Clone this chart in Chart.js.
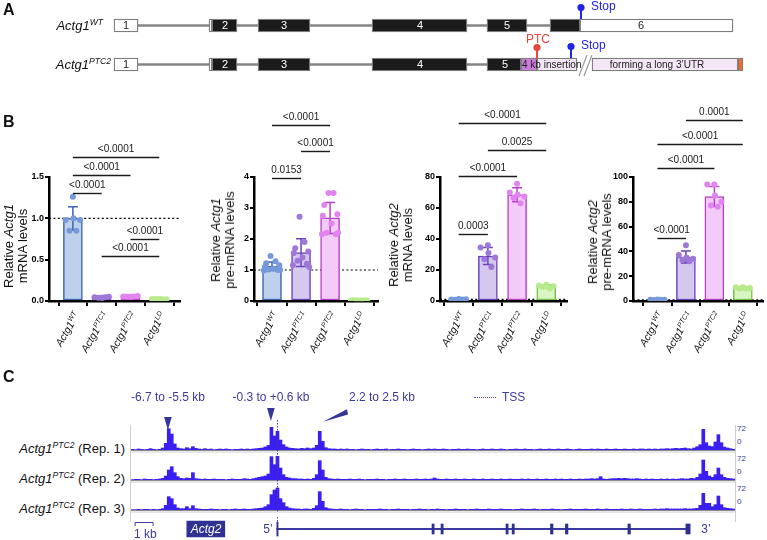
<!DOCTYPE html>
<html>
<head>
<meta charset="utf-8">
<title>Actg1 PTC2 allele</title>
<script src="https://cdn.jsdelivr.net/npm/chart.js"></script>
<style>
  body { margin: 0; background: #fff; }
  #fig { position: relative; width: 767px; height: 540px; overflow: hidden; font-family: Arial, "Liberation Sans", sans-serif; color: #111; }
  #fig canvas { position: absolute; }
  .t { position: absolute; white-space: nowrap; line-height: 1; }
  .t sup { font-size: 0.66em; vertical-align: baseline; position: relative; top: -0.55em; }
  .panel { font-size: 16px; font-weight: bold; }
  .ytitle { text-align: center; font-size: 13px; line-height: 14px; }
  .xlab { font-size: 10.5px; font-style: italic; transform-origin: 100% 50%; }
  .navy { color: #3b3b9c; }
</style>
</head>
<body>
<div id="fig">
  <canvas id="geneA" style="left:0px;top:0px" width="767" height="90"></canvas>
  <canvas id="b1" style="left:0px;top:100px" width="190" height="240"></canvas>
  <canvas id="b2" style="left:195px;top:100px" width="190" height="240"></canvas>
  <canvas id="b3" style="left:385px;top:100px" width="188" height="240"></canvas>
  <canvas id="b4" style="left:573px;top:100px" width="194" height="240"></canvas>
  <canvas id="t1" style="left:131px;top:393px" width="604" height="60"></canvas>
  <canvas id="t2" style="left:131px;top:453px" width="604" height="30"></canvas>
  <canvas id="t3" style="left:131px;top:483px" width="604" height="30"></canvas>
  <canvas id="gm" style="left:131px;top:517px" width="604" height="24"></canvas>
</div>
<script>
// ---------- A: gene models (schematic units) ----------
const geneRows = ['Actg1 WT', 'Actg1 PTC2'];
const intronSpan = [[138, 550], [138, 487]];
const segWT  = [[114,138],[209,212],[212,237],[258,310],[372,467],[487,527],[550,580],[580,733]];
const segPTC = [[114,138],[209,212],[212,237],[258,310],[372,467],[487,521],[521,537],[537,577],[592,738],[738,743]];
const fillWT  = ['#fff','#fff','#1b1b1b','#1b1b1b','#1b1b1b','#1b1b1b','#1b1b1b','#fff'];
const fillPTC = ['#fff','#fff','#1b1b1b','#1b1b1b','#1b1b1b','#1b1b1b','#cb7bdb','#f4e5f7','#f4e5f7','#ee6b2d'];
const exonNumWT  = [['1',126],['2',225],['3',284],['4',420],['5',507],['6',641]];
const exonNumPTC = [['1',126],['2',225],['3',284],['4',420],['5',505]];
const exonNumInk = ['#222','#fff','#fff','#fff','#fff','#222'];
const stopAt = [581, 571];
const ptcAt = 537;
const breakAt = 585;

// ---------- B: qPCR ----------
const groups = ['WT', 'PTC1', 'PTC2', 'LD'];
const jitter6  = [0, -0.25, 0.02, 0.25, -0.12, 0.12];
const jitter10 = [-0.05, 0.12, -0.2, 0.25, -0.25, 0.05, -0.12, 0.2, -0.28, 0.28];

const a1mMeans = [1.0, 0.045, 0.052, 0.022];
const a1mSd    = [0.14, 0.006, 0.006, 0.003];
const a1mPts = [
  [1.26, 0.98, 1.0, 0.98, 0.85, 0.85],
  [0.04, 0.045, 0.04, 0.05, 0.04, 0.045],
  [0.05, 0.055, 0.05, 0.06, 0.05, 0.055],
  [0.02, 0.025, 0.02, 0.02, 0.025, 0.02]];
const a1mP = [[0,3,1.74,'<0.0001'],[0,2,1.52,'<0.0001'],[0,1,1.31,'<0.0001'],[2,3,0.753,'<0.0001'],[1,3,0.544,'<0.0001']];

const a1pMeans = [1.12, 1.56, 2.68, 0.02];
const a1pSd    = [0.14, 0.45, 0.5, 0.005];
const a1pPts = [
  [1.45, 1.28, 1.22, 1.15, 1.1, 1.05, 1.02, 1.0, 0.98, 1.0],
  [2.72, 1.9, 1.7, 1.6, 1.55, 1.4, 1.3, 1.2, 1.15, 1.1],
  [3.48, 3.48, 3.1, 2.8, 2.75, 2.5, 2.2, 2.15, 2.15, 2.2],
  [0.02, 0.02, 0.02, 0.02, 0.02, 0.02, 0.02, 0.02, 0.02, 0.02]];
const a1pP = [[0,2,5.69,'<0.0001'],[1,2,4.83,'<0.0001'],[0,1,3.97,'0.0153']];

const a2mMeans = [1.0, 29, 68.5, 9.4];
const a2mSd    = [0.2, 5.5, 4.5, 0.9];
const a2mPts = [
  [1.3, 1.0, 0.9, 1.1, 0.8, 1.0],
  [36, 34.5, 31, 28, 27, 22],
  [75.7, 70, 68.5, 67.5, 66.5, 63],
  [10.5, 10, 9.5, 9.5, 9, 8]];
const a2mP = [[0,3,114.6,'<0.0001'],[1,3,97.6,'0.0025'],[0,2,80.4,'<0.0001'],[0,1,43.2,'0.0003']];

const a2pMeans = [1.0, 35.5, 84.3, 10.5];
const a2pSd    = [0.2, 4.8, 8, 0.5];
const a2pPts = [
  [1.2, 1.0, 0.9, 1.1, 0.8, 1.0],
  [45, 37, 35, 34, 33, 32],
  [94, 94, 85, 80, 77, 76],
  [11, 11, 10.5, 10.5, 10, 10]];
const a2pP = [[1,3,145.7,'0.0001'],[0,3,126.8,'<0.0001'],[0,2,107.2,'<0.0001'],[0,1,50.6,'<0.0001']];

// ---------- C: coverage tracks (200 bins, scale 0-72) ----------
const kbMin = -8.1, kbMax = 25.45;
const rep1 = [
  2,1,3,2,1,2,4,2,1,2, 6,20,64,48,18,6,4,3,7,4, 10,5,3,2,4,2,3,1,2,3, 2,3,2,1,2,2,3,2,3,2,
  3,4,5,6,9,14,68,42,56,30, 16,9,6,5,4,3,5,4,6,4, 6,14,56,26,7,4,3,3,2,3, 2,3,2,2,1,2,3,2,2,1,
  2,3,2,2,3,1,2,2,3,2, 2,1,2,3,2,2,1,2,3,2, 3,2,2,3,2,1,2,2,3,2, 2,3,2,2,1,2,3,2,2,3,
  2,2,3,2,1,2,2,3,2,2, 3,2,2,1,2,3,2,2,3,2, 2,3,2,2,3,2,1,2,3,2, 2,2,3,2,3,2,2,3,2,2,
  3,2,2,3,2,2,3,2,3,3, 2,3,2,3,2,3,3,4,3,4, 5,4,5,6,4,3,6,10,16,62, 22,12,10,24,46,22,9,6,4,2];
const rep2 = [
  1,2,2,1,3,2,2,1,2,3, 5,12,30,40,22,10,5,4,6,5, 22,4,3,2,3,2,2,3,2,2, 2,1,2,3,2,2,2,4,3,2,
  4,6,8,10,12,18,70,46,72,36, 16,8,6,4,4,3,3,2,3,2, 5,16,58,30,8,4,3,2,3,2, 2,2,3,2,2,3,2,1,2,2,
  2,3,2,2,1,2,2,3,2,2, 3,2,2,2,3,2,2,3,2,3, 6,3,2,2,3,2,2,3,2,2, 3,2,2,3,2,2,3,2,2,3,
  2,2,3,2,2,3,2,2,2,3, 2,3,2,2,3,2,2,3,2,2, 3,2,3,2,2,3,2,2,3,2, 3,3,4,3,4,10,3,2,3,4,
  4,5,4,5,4,3,3,4,3,2, 3,2,3,2,2,3,2,3,2,3, 2,3,4,3,3,5,4,8,18,60, 26,12,8,16,36,16,8,5,4,3];
const rep3 = [
  1,1,2,1,2,2,1,2,1,2, 4,14,40,34,16,6,4,4,10,4, 13,4,3,2,2,2,3,2,2,1, 2,2,1,2,3,2,2,3,2,2,
  3,4,5,6,10,16,46,60,66,34, 22,10,6,4,3,3,2,3,3,2, 5,13,55,26,7,4,3,2,2,3, 2,2,1,2,3,2,2,1,2,2,
  2,2,3,2,2,1,2,2,3,2, 2,2,1,2,2,3,2,2,1,2, 2,3,2,2,1,2,2,3,2,2, 2,1,2,2,3,2,2,2,3,2,
  2,2,3,2,2,2,1,2,2,3, 2,2,2,3,2,1,2,2,2,3, 2,2,1,2,2,3,2,2,2,2, 3,2,2,2,3,2,2,3,2,2,
  2,2,3,2,2,3,2,2,3,2, 2,2,2,3,2,3,3,4,3,3, 3,3,3,4,3,3,4,5,14,50, 20,20,10,16,42,16,7,5,4,3];
const arrowKb = [-6.05, -0.33];
const wedgeKb = [2.56, 3.9];
const actg1Span = [0, 22.9];
const actg1Exons = [[0,0.07],[8.62,8.74],[9.12,9.24],[12.73,12.85],[13.07,13.19],[15.2,15.34],[16.03,16.17],[19.5,19.64],[22.72,22.96]];
const actg2Box = [-5.0, -2.89];
const scaleBarKb = [-7.9, -6.9];

const fig = document.getElementById('fig');
function put(html, x, y, cls, anchor, extra) {
  const d = document.createElement('div');
  d.className = 't ' + (cls || '');
  d.innerHTML = html;
  d.style.left = x + 'px';
  d.style.top = y + 'px';
  const tx = anchor === 'right' ? '-100%' : anchor === 'center' ? '-50%' : '0';
  d.style.transform = `translate(${tx},-50%)` + (extra || '');
  fig.appendChild(d);
  return d;
}
const noUi = { responsive: false, animation: false, events: [], plugins: { legend: { display: false }, tooltip: { enabled: false } } };

// ---------- panel A chart ----------
const aSets = [{ data: intronSpan, backgroundColor: '#858585', barThickness: 2, grouped: false, borderWidth: 0, order: 10 }];
for (let k = 0; k < Math.max(segWT.length, segPTC.length); k++) {
  aSets.push({ data: [segWT[k] || null, segPTC[k] || null], backgroundColor: [fillWT[k] || '#fff', fillPTC[k] || '#fff'],
    borderColor: '#7d7d7d', borderWidth: 1.3, borderSkipped: false, barThickness: 13, grouped: false, order: 0 });
}
const geneDecor = {
  id: 'geneDecor',
  afterDatasetsDraw(chart) {
    const { ctx, scales: { x, y } } = chart;
    const r0 = y.getPixelForValue(0), r1 = y.getPixelForValue(1);
    ctx.save();
    ctx.font = '11px Arial'; ctx.textAlign = 'center'; ctx.textBaseline = 'middle';
    exonNumWT.forEach(([t, p], k) => { ctx.fillStyle = exonNumInk[k]; ctx.fillText(t, x.getPixelForValue(p), r0 + 0.5); });
    exonNumPTC.forEach(([t, p], k) => { ctx.fillStyle = exonNumInk[k]; ctx.fillText(t, x.getPixelForValue(p), r1 + 0.5); });
    ctx.font = '10px Arial'; ctx.fillStyle = '#222'; ctx.textAlign = 'left';
    ctx.fillText('4 kb insertion', x.getPixelForValue(522), r1 + 0.5);
    ctx.textAlign = 'center';
    ctx.fillText('forming a long 3\u2019UTR', x.getPixelForValue(657), r1 + 0.5);
    // break marks
    const bx = x.getPixelForValue(breakAt);
    ctx.strokeStyle = '#9a9a9a'; ctx.lineWidth = 1.2;
    ctx.beginPath();
    ctx.moveTo(bx - 6, r1 + 11.5); ctx.lineTo(bx + 2, r1 - 9.5);
    ctx.moveTo(bx - 1, r1 + 11.5); ctx.lineTo(bx + 7, r1 - 9.5);
    ctx.stroke();
    // lollipops
    const pop = (px, row, col, label, lx, align) => {
      const top = row - 18;
      ctx.strokeStyle = col; ctx.fillStyle = col; ctx.lineWidth = 2;
      ctx.beginPath(); ctx.moveTo(px, row - 6.5); ctx.lineTo(px, top); ctx.stroke();
      ctx.beginPath(); ctx.arc(px, top, 3.6, 0, Math.PI * 2); ctx.fill();
      ctx.font = '12px Arial'; ctx.textAlign = align; ctx.textBaseline = 'middle';
      ctx.fillText(label, lx, align === 'center' ? top - 8 : top - 1);
    };
    const sw = x.getPixelForValue(stopAt[0]), sp = x.getPixelForValue(stopAt[1]), pp = x.getPixelForValue(ptcAt);
    pop(sw, r0, '#2323e6', 'Stop', sw + 10, 'left');
    pop(pp, r1 + 1, '#e8453f', 'PTC', pp + 1, 'center');
    pop(sp, r1, '#2323e6', 'Stop', sp + 10, 'left');
    ctx.restore();
  }
};
new Chart(document.getElementById('geneA'), {
  type: 'bar',
  data: { labels: geneRows, datasets: aSets },
  options: Object.assign({}, noUi, {
    indexAxis: 'y',
    layout: { padding: { top: 6, bottom: 6, left: 0, right: 0 } },
    scales: { x: { type: 'linear', min: 0, max: 767, display: false }, y: { display: false } }
  }),
  plugins: [geneDecor]
});

// ---------- panel B charts ----------
const barFill = ['#bdd0ec', '#d4c8ef', '#f4cbf8', '#daf5c4'];
const barEdge = ['#3f63ad', '#6b42b9', '#b541c7', '#73c046'];
const dotFill = ['#7699d9', '#9d78d9', '#e284f0', '#b7ea8c'];

const errorBars = {
  id: 'errorBars',
  afterDatasetDraw(chart, args) {
    const ds = chart.data.datasets[args.index];
    if (!ds.sd) return;
    const { ctx, scales: { x, y } } = chart;
    ctx.save();
    ctx.lineWidth = 1.5;
    ds.data.forEach((d, i) => {
      const px = x.getPixelForValue(d.x);
      const hi = y.getPixelForValue(d.y + ds.sd[i]);
      const lo = y.getPixelForValue(Math.max(0, d.y - ds.sd[i]));
      ctx.strokeStyle = barEdge[i];
      ctx.beginPath();
      ctx.moveTo(px, hi); ctx.lineTo(px, lo);
      ctx.moveTo(px - 5, hi); ctx.lineTo(px + 5, hi);
      ctx.moveTo(px - 5, lo); ctx.lineTo(px + 5, lo);
      ctx.stroke();
    });
    ctx.restore();
  }
};
function bracketPlugin(list) {
  return {
    id: 'brackets',
    afterDraw(chart) {
      const { ctx, scales: { x, y } } = chart;
      ctx.save();
      ctx.strokeStyle = '#1a1a1a'; ctx.fillStyle = '#1a1a1a'; ctx.lineWidth = 1.4;
      ctx.font = '10px Arial'; ctx.textAlign = 'center'; ctx.textBaseline = 'bottom';
      list.forEach(([a, b, v, txt]) => {
        const x1 = x.getPixelForValue(a), x2 = x.getPixelForValue(b), py = Math.round(y.getPixelForValue(v)) + 0.5;
        ctx.beginPath(); ctx.moveTo(x1, py); ctx.lineTo(x2, py); ctx.stroke();
        ctx.fillText(txt, (x1 + x2) / 2, py - 3);
      });
      ctx.restore();
    }
  };
}
function groupChart(id, box, means, sds, pts, pvals, title) {
  const jit = pts[0].length > 6 ? jitter10 : jitter6;
  const sets = [
    { type: 'line', data: [{ x: box.xMin, y: 1 }, { x: box.xMax, y: 1 }], borderColor: '#000', borderWidth: 1.2, borderDash: [2, 2.4], pointRadius: 0, order: 4 },
    { type: 'bar', data: means.map((m, i) => ({ x: i, y: m })), backgroundColor: barFill, borderColor: barEdge, borderWidth: 1.5,
      borderSkipped: false, barThickness: 19, order: 3, sd: sds },
    ...pts.map((g, i) => ({ type: 'scatter', data: g.map((v, j) => ({ x: i + jit[j], y: v })), backgroundColor: dotFill[i],
      pointRadius: 3, borderWidth: 0, order: 1 }))
  ];
  const axisLook = { grid: { drawOnChartArea: false, color: '#000', lineWidth: 2 }, border: { color: '#000', width: 2.5 } };
  const chart = new Chart(document.getElementById(id), {
    type: 'bar',
    data: { datasets: sets },
    options: Object.assign({}, noUi, {
      layout: { padding: { top: box.aTop - box.top, right: box.left + box.w - box.aRight, left: 0, bottom: 0 } },
      scales: {
        x: { type: 'linear', offset: false, min: box.xMin, max: box.xMax,
          afterBuildTicks: s => { s.ticks = [0, 1, 2, 3].map(v => ({ value: v })); },
          ticks: { display: false },
          grid: Object.assign({}, axisLook.grid, { tickLength: 5 }), border: axisLook.border,
          afterFit: s => { s.height = box.top + 240 - box.aBottom; } },
        y: { type: 'linear', min: 0, max: box.yMax,
          ticks: { stepSize: box.step, padding: 1, color: '#000', font: { family: 'Arial', size: 9, weight: 'bold' },
            callback: v => box.step < 1 ? v.toFixed(1) : String(v) },
          grid: Object.assign({}, axisLook.grid, { tickLength: 4 }), border: axisLook.border,
          afterFit: s => { s.width = box.aLeft - box.left; } }
      }
    }),
    plugins: [errorBars, bracketPlugin(pvals)]
  });
  const sx = chart.scales.x;
  groups.forEach((g, i) => {
    const px = box.left + sx.getPixelForValue(i);
    put('Actg1<sup>' + g + '</sup>', px + 4, box.aBottom + 12, 'xlab', 'right', ' rotate(-60deg)');
  });
  put(title.join('<br>'), box.tx, box.ty, 'ytitle', 'center', ' rotate(-90deg)');
  return chart;
}
groupChart('b1', { left: 0, top: 100, w: 190, aLeft: 49, aTop: 177, aRight: 180, aBottom: 301, xMin: -0.83, xMax: 3.72, yMax: 1.5, step: 0.5, tx: 16, ty: 246 },
  a1mMeans, a1mSd, a1mPts, a1mP, ['Relative <i>Actg1</i>', 'mRNA levels']);
groupChart('b2', { left: 195, top: 100, w: 190, aLeft: 254, aTop: 177, aRight: 378, aBottom: 301, xMin: -0.62, xMax: 3.65, yMax: 4, step: 1, tx: 223, ty: 240 },
  a1pMeans, a1pSd, a1pPts, a1pP, ['Relative <i>Actg1</i>', 'pre-mRNA levels']);
groupChart('b3', { left: 385, top: 100, w: 188, aLeft: 440, aTop: 177, aRight: 567, aBottom: 301, xMin: -0.64, xMax: 3.71, yMax: 80, step: 20, tx: 401, ty: 245 },
  a2mMeans, a2mSd, a2mPts, a2mP, ['Relative <i>Actg2</i>', 'mRNA levels']);
groupChart('b4', { left: 573, top: 100, w: 194, aLeft: 633, aTop: 177, aRight: 766, aBottom: 301, xMin: -0.86, xMax: 3.71, yMax: 100, step: 20, tx: 600, ty: 242 },
  a2pMeans, a2pSd, a2pPts, a2pP, ['Relative <i>Actg2</i>', 'pre-mRNA levels']);

// ---------- panel C tracks ----------
const binW = (kbMax - kbMin) / rep1.length;
function trackDecor(withArrows) {
  return {
    id: 'trackDecor',
    beforeDatasetsDraw(chart) {
      const { ctx, chartArea: a } = chart;
      ctx.save();
      ctx.fillStyle = '#e7e7e7'; ctx.fillRect(0, a.bottom, chart.width, chart.height - a.bottom);
      ctx.strokeStyle = '#8c8c8c'; ctx.lineWidth = 1;
      ctx.beginPath(); ctx.moveTo(0, a.bottom + 0.5); ctx.lineTo(chart.width, a.bottom + 0.5); ctx.stroke();
      ctx.restore();
    },
    afterDatasetsDraw(chart) {
      const { ctx, chartArea: a, scales: { x } } = chart;
      const tx = Math.round(x.getPixelForValue(0)) + 0.5;
      ctx.save();
      ctx.strokeStyle = '#3c3cb0'; ctx.lineWidth = 1; ctx.setLineDash([1.5, 1.5]);
      ctx.beginPath(); ctx.moveTo(tx, withArrows ? a.top - 6 : 0); ctx.lineTo(tx, chart.height); ctx.stroke();
      ctx.setLineDash([]);
      if (withArrows) {
        ctx.fillStyle = '#34349a';
        const tops = [24, 15];
        arrowKb.forEach((k, i) => {
          const px = x.getPixelForValue(k);
          ctx.beginPath(); ctx.moveTo(px - 3.8, tops[i]); ctx.lineTo(px + 3.8, tops[i]); ctx.lineTo(px, tops[i] + 13); ctx.closePath(); ctx.fill();
        });
        const w0 = x.getPixelForValue(wedgeKb[0]), w1 = x.getPixelForValue(wedgeKb[1]);
        ctx.beginPath(); ctx.moveTo(w0, 28.7); ctx.lineTo(w1, 16.3); ctx.lineTo(w1 + 1, 21.5); ctx.closePath(); ctx.fill();
      }
      ctx.restore();
    }
  };
}
function trackChart(id, values, padTop, withArrows) {
  new Chart(document.getElementById(id), {
    type: 'bar',
    data: { datasets: [{ data: values.map((v, i) => ({ x: kbMin + (i + 0.5) * binW, y: v })), backgroundColor: '#3b1ff0',
      borderWidth: 0, barPercentage: 1, categoryPercentage: 1 }] },
    options: Object.assign({}, noUi, {
      layout: { padding: { top: padTop, bottom: 3, left: 0, right: 0 } },
      scales: { x: { type: 'linear', min: kbMin, max: kbMax, offset: false, display: false }, y: { min: 0, max: 72, display: false } }
    }),
    plugins: [trackDecor(withArrows)]
  });
}
trackChart('t1', rep1, 33, true);
trackChart('t2', rep2, 3, false);
trackChart('t3', rep3, 3, false);

// gene model of the Actg1 locus
const gmSets = [{ data: [actg1Span], backgroundColor: '#3a3aa0', barThickness: 1.5, grouped: false, order: 5 }]
  .concat(actg1Exons.map((e, k) => ({ data: [e], backgroundColor: '#2e2f8f', barThickness: k === 0 ? 14 : 10, grouped: false, order: 1 })))
  .concat([{ data: [actg2Box], backgroundColor: '#2e3192', barThickness: 16, grouped: false, order: 1 }]);
const gmDecor = {
  id: 'gmDecor',
  afterDatasetsDraw(chart) {
    const { ctx, scales: { x, y } } = chart;
    const row = y.getPixelForValue(0);
    const a = x.getPixelForValue(scaleBarKb[0]), b = x.getPixelForValue(scaleBarKb[1]);
    ctx.save();
    ctx.strokeStyle = '#3c3ca0'; ctx.lineWidth = 1;
    ctx.beginPath();
    ctx.moveTo(a + 0.5, row - 3); ctx.lineTo(a + 0.5, row - 6.5); ctx.lineTo(b + 0.5, row - 6.5); ctx.lineTo(b + 0.5, row - 3);
    ctx.stroke();
    const tx = Math.round(x.getPixelForValue(0)) + 0.5;
    ctx.strokeStyle = '#3c3cb0'; ctx.setLineDash([1.5, 1.5]);
    ctx.beginPath(); ctx.moveTo(tx, 0); ctx.lineTo(tx, row - 7); ctx.stroke();
    ctx.restore();
  }
};
new Chart(document.getElementById('gm'), {
  type: 'bar',
  data: { labels: ['Actg1 locus'], datasets: gmSets },
  options: Object.assign({}, noUi, {
    indexAxis: 'y',
    layout: { padding: 0 },
    scales: { x: { type: 'linear', min: kbMin, max: kbMax, display: false }, y: { display: false } }
  }),
  plugins: [gmDecor]
});

// ---------- text ----------
put('A', 3, 10, 'panel');
put('B', 3, 122, 'panel');
put('C', 3, 377, 'panel');
put('<i>Actg1</i><sup><i>WT</i></sup>', 103, 25, '', 'right').style.fontSize = '13px';
put('<i>Actg1</i><sup><i>PTC2</i></sup>', 111, 64, '', 'right').style.fontSize = '13px';

['(Rep. 1)', '(Rep. 2)', '(Rep. 3)'].forEach((r, i) => {
  const d = put('<i>Actg1</i><sup><i>PTC2</i></sup> ' + r, 125, 448 + 30 * i, '', 'right');
  d.style.fontSize = '13px';
  const hi = put('72', 737, 429 + 30 * i, 'navy'); hi.style.fontSize = '8px';
  const lo = put('0', 737, 442 + 30 * i, 'navy'); lo.style.fontSize = '8px';
});
[['-6.7 to -5.5 kb', 168, 'center'], ['-0.3 to +0.6 kb', 271, 'center'], ['2.2 to 2.5 kb', 349, 'left'], ['TSS', 502, 'left']]
  .forEach(([s, x, al]) => { put(s, x, 397, 'navy', al).style.fontSize = '12px'; });
const leg = document.createElement('div');
leg.style.cssText = 'position:absolute;left:474px;top:397px;width:22px;border-top:1px dotted #4a4ab8;';
fig.appendChild(leg);
[['1 kb', 134, 534, 'left'], ['5\u2019', 268, 529, 'center'], ['3\u2019', 706, 529, 'center']]
  .forEach(([s, x, y, al]) => { put(s, x, y, 'navy', al).style.fontSize = '12px'; });
const g2 = put('<i>Actg2</i>', 206, 528.5, '', 'center'); g2.style.fontSize = '12px'; g2.style.color = '#fff';
[130, 735].forEach(x => {
  const v = document.createElement('div');
  v.style.cssText = `position:absolute;left:${x}px;top:425px;width:1px;height:97px;background:#cfcfcf;`;
  fig.appendChild(v);
});
</script>
</body>
</html>
